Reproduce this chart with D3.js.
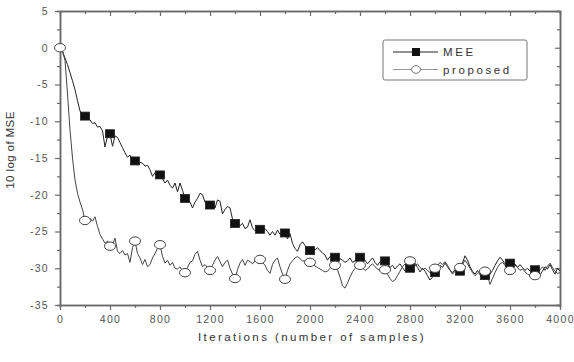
<!DOCTYPE html>
<html>
<head>
<meta charset="utf-8">
<script src="https://cdn.jsdelivr.net/npm/d3@7"></script>
<style>
  body { margin: 0; background: #fff; }
  text { font-family: Arial, "Liberation Sans", sans-serif; }
</style>
</head>
<body>
<svg id="chart" width="574" height="362"></svg>
<script>
// iterations 0..4000, one value every 20 samples
const iterStep = 20;
const meeValues = [
  0, -0.5, -1.4, -2.3, -3.4, -4.5, -5.7, -7.2, -8.6, -9.2,
  -9.3, -9.6, -9.8, -10.3, -10.2, -10.8, -10.7, -11.3, -13.5, -12.0,
  -11.7, -13.4, -12.0, -12.2, -12.9, -13.6, -14.3, -14.9, -14.6, -15.4,
  -15.4, -15.9, -15.6, -15.7, -16.1, -16.0, -16.6, -17.5, -17.0, -17.6,
  -17.3, -17.8, -18.4, -18.0, -18.7, -19.1, -18.4, -19.6, -18.4, -19.4,
  -20.5, -20.8, -21.0, -21.8, -21.0, -20.5, -19.8, -20.0, -21.0, -21.4,
  -21.4, -21.0, -21.8, -20.7, -20.9, -22.6, -22.0, -21.6, -21.8, -23.3,
  -23.9, -23.8, -24.2, -23.9, -24.6, -24.4, -23.4, -24.5, -24.9, -24.7,
  -24.7, -24.9, -24.6, -25.0, -25.5, -25.0, -25.5, -24.8, -25.4, -25.2,
  -25.2, -26.0, -25.3, -26.6, -27.3, -27.7, -26.8, -26.4, -26.9, -27.6,
  -27.6, -27.2, -27.5, -27.2, -27.6, -27.9, -28.2, -28.9, -28.4, -28.5,
  -28.5, -28.7, -28.7, -28.9, -29.2, -29.0, -28.6, -29.2, -29.0, -28.6,
  -28.5, -28.3, -28.9, -29.4, -29.0, -28.6, -29.2, -29.6, -29.1, -28.8,
  -29.0, -29.4, -29.9, -29.6, -30.1, -29.7, -29.4, -29.9, -30.4, -30.2,
  -30.0, -29.6, -29.3, -29.9, -30.5, -30.0, -30.4, -31.0, -31.6, -31.2,
  -30.6, -30.2, -29.6, -29.9, -29.3, -29.8, -30.3, -30.6, -30.2, -30.6,
  -30.4, -29.3, -28.3, -28.9, -29.8, -30.4, -30.8, -30.3, -30.9, -31.4,
  -31.0, -31.3, -30.8, -30.3, -29.6, -29.0, -28.5, -28.9, -29.4, -29.2,
  -29.3, -29.6, -29.4, -29.9, -29.5, -29.9, -30.3, -30.0, -30.4, -30.2,
  -30.2, -30.5, -30.9, -30.4, -29.8, -30.1, -29.5, -30.2, -30.8, -30.0,
  -30.4
];
const proposedValues = [
  0, -0.5, -1.7, -6.3, -11.2, -15.0, -18.0, -19.8, -21.0, -22.0,
  -23.5, -23.5, -23.2, -23.6, -23.0, -24.3, -25.4, -26.0, -26.6, -26.3,
  -27.0, -26.8, -25.9, -27.7, -28.0, -27.6, -28.2, -28.0, -29.2, -27.2,
  -26.3, -28.0, -28.6, -29.5, -28.8, -29.8, -29.5, -28.6, -28.0, -27.3,
  -26.8, -28.4, -29.3, -28.9, -29.6, -29.2, -30.0, -30.1, -29.8, -30.4,
  -30.6, -29.9, -29.2, -29.0, -28.1, -27.7, -28.9, -29.8, -29.5, -29.9,
  -30.3, -29.6, -28.9, -28.4, -29.1, -29.8, -29.2, -28.9, -30.0, -30.8,
  -31.4, -30.2, -29.3, -28.8, -29.6, -28.9, -29.1, -29.4, -29.0, -28.6,
  -28.8, -29.2, -29.6, -30.3, -30.7, -29.5, -28.9, -28.6, -29.8, -30.8,
  -31.5, -30.3, -29.4, -29.0, -28.6, -28.4, -28.7, -29.0, -29.0, -29.1,
  -29.2, -29.4, -29.7, -29.9, -30.1, -30.3, -30.5, -30.4, -30.0, -29.6,
  -29.6, -30.2, -31.2, -32.4, -32.7, -32.0, -31.2, -30.5, -30.0, -29.7,
  -29.6, -29.9, -30.3, -30.1, -29.7, -29.4, -29.8, -30.1, -30.3, -30.2,
  -30.2, -30.8, -31.4, -31.8, -31.6, -31.0, -30.4, -29.8, -29.4, -29.1,
  -29.0, -29.3, -29.7, -29.4, -29.9, -30.2, -30.0, -30.3, -30.6, -30.2,
  -30.0, -29.7, -29.2, -29.5, -29.1, -29.6, -30.2, -30.8, -30.4, -30.0,
  -29.9, -29.5, -28.9, -29.4, -30.0, -30.6, -31.0, -30.7, -30.4, -30.2,
  -30.4, -31.0, -32.2, -31.4, -30.6, -29.9, -29.4, -29.2, -29.6, -30.0,
  -30.3, -30.0, -29.6, -29.9, -30.3, -30.1, -30.5, -30.8, -31.0, -31.1,
  -31.0, -30.6, -30.2, -29.8, -30.3, -29.7, -29.3, -29.9, -30.4, -30.7,
  -30.6
];
const markerEvery = 200;
const xTicks = [0, 400, 800, 1200, 1600, 2000, 2400, 2800, 3200, 3600, 4000];
const xMinorTicks = [200, 600, 1000, 1400, 1800, 2200, 2600, 3000, 3400, 3800];
const yTicks = [5, 0, -5, -10, -15, -20, -25, -30, -35];
const yMinorTicks = [2.5, -2.5, -7.5, -12.5, -17.5, -22.5, -27.5, -32.5];
const seriesNames = ['MEE', 'proposed'];

const svg = d3.select('#chart');
const plotLeft = 60, plotRight = 560, plotTop = 11, plotBottom = 305;
const axisColor = '#6a6a6a';
const textColor = '#555';
const plainFormat = d => String(d);   // keeps "-5" with a hyphen, no thousands comma

const x = d3.scaleLinear().domain([0, 4000]).range([plotLeft, plotRight]);
const y = d3.scaleLinear().domain([-35, 5]).range([plotBottom, plotTop]);

const iterations = meeValues.map((d, i) => i * iterStep);
const meeData = iterations.map((it, i) => ({ it: it, v: meeValues[i] }));
const propData = iterations.map((it, i) => ({ it: it, v: proposedValues[i] }));

// axes: left/bottom ticks outward, top/right ticks inward
function styleAxis(g) {
  g.select('.domain').attr('stroke', axisColor).attr('stroke-width', 1.5);
  g.selectAll('.tick line').attr('stroke', axisColor).attr('stroke-width', 1.2);
  g.selectAll('.tick text')
    .attr('fill', textColor)
    .attr('font-size', 10.5)
    .attr('letter-spacing', 1.3);
}

svg.append('g')
  .attr('transform', `translate(0, ${plotBottom})`)
  .call(d3.axisBottom(x).tickValues(xTicks).tickFormat(plainFormat).tickSize(5).tickSizeOuter(0).tickPadding(6))
  .call(styleAxis);
svg.append('g')
  .attr('transform', `translate(0, ${plotBottom})`)
  .call(d3.axisBottom(x).tickValues(xMinorTicks).tickSize(3).tickFormat(''))
  .call(styleAxis);

svg.append('g')
  .attr('transform', `translate(${plotLeft}, 0)`)
  .call(d3.axisLeft(y).tickValues(yTicks).tickFormat(plainFormat).tickSize(5).tickSizeOuter(0).tickPadding(6))
  .call(styleAxis);
svg.append('g')
  .attr('transform', `translate(${plotLeft}, 0)`)
  .call(d3.axisLeft(y).tickValues(yMinorTicks).tickSize(3).tickFormat(''))
  .call(styleAxis);

svg.append('g')
  .attr('transform', `translate(0, ${plotTop})`)
  .call(d3.axisBottom(x).tickValues(xTicks).tickSize(5).tickSizeOuter(0).tickFormat(''))
  .call(styleAxis);
svg.append('g')
  .attr('transform', `translate(0, ${plotTop})`)
  .call(d3.axisBottom(x).tickValues(xMinorTicks).tickSize(3).tickFormat(''))
  .call(styleAxis);

svg.append('g')
  .attr('transform', `translate(${plotRight}, 0)`)
  .call(d3.axisLeft(y).tickValues(yTicks).tickSize(5).tickSizeOuter(0).tickFormat(''))
  .call(styleAxis);
svg.append('g')
  .attr('transform', `translate(${plotRight}, 0)`)
  .call(d3.axisLeft(y).tickValues(yMinorTicks).tickSize(3).tickFormat(''))
  .call(styleAxis);

// axis titles
svg.append('text')
  .text('Iterations (number of samples)')
  .attr('x', (plotLeft + plotRight) / 2 + 2)
  .attr('y', 341)
  .attr('text-anchor', 'middle')
  .attr('font-size', 11.5)
  .attr('letter-spacing', 2.4)
  .attr('fill', '#333');

svg.append('text')
  .text('10 log of MSE')
  .attr('transform', `translate(14, 150) rotate(-90)`)
  .attr('text-anchor', 'middle')
  .attr('font-size', 11.5)
  .attr('letter-spacing', 0.4)
  .attr('fill', '#333');

// lines
const line = d3.line()
  .x(d => x(d.it))
  .y(d => y(d.v));

svg.append('path')
  .datum(meeData)
  .attr('d', line)
  .attr('fill', 'none')
  .attr('stroke', '#222')
  .attr('stroke-width', 1);

svg.append('path')
  .datum(propData)
  .attr('d', line)
  .attr('fill', 'none')
  .attr('stroke', '#444')
  .attr('stroke-width', 1);

// markers every 200 iterations (none on the end points for MEE)
svg.append('g').selectAll('rect')
  .data(meeData.filter(d => d.it % markerEvery === 0 && d.it > 0 && d.it < 4000))
  .join('rect')
  .attr('x', d => x(d.it) - 4.5)
  .attr('y', d => y(d.v) - 4)
  .attr('width', 9)
  .attr('height', 8)
  .attr('fill', '#111')
  .attr('stroke', '#222')
  .attr('stroke-width', 0.8);

svg.append('g').selectAll('ellipse')
  .data(propData.filter(d => d.it % markerEvery === 0 && d.it < 4000))
  .join('ellipse')
  .attr('cx', d => x(d.it))
  .attr('cy', d => y(d.v))
  .attr('rx', 5.5)
  .attr('ry', 4.2)
  .attr('fill', '#fff')
  .attr('stroke', '#444')
  .attr('stroke-width', 1);

// legend
const legend = svg.append('g')
  .attr('transform', 'translate(383, 40)');

legend.append('rect')
  .attr('width', 144)
  .attr('height', 40)
  .attr('rx', 2)
  .attr('fill', '#fff')
  .attr('stroke', '#777')
  .attr('stroke-width', 1);

seriesNames.forEach((name, idx) => {
  const ly = 12 + idx * 17.5;
  legend.append('path')
    .attr('d', d3.line()([[10, ly], [55, ly]]))
    .attr('stroke', idx === 0 ? '#222' : '#999')
    .attr('stroke-width', 1);
  if (idx === 0) {
    legend.append('rect')
      .attr('x', 29).attr('y', ly - 4)
      .attr('width', 8).attr('height', 8)
      .attr('fill', '#111');
  } else {
    legend.append('ellipse')
      .attr('cx', 33).attr('cy', ly)
      .attr('rx', 4.5).attr('ry', 3.8)
      .attr('fill', '#fff')
      .attr('stroke', '#777');
  }
  legend.append('text')
    .text(name)
    .attr('x', 60)
    .attr('y', ly + 4)
    .attr('font-size', 11.5)
    .attr('letter-spacing', 2.6)
    .attr('fill', '#333');
});
</script>
</body>
</html>
